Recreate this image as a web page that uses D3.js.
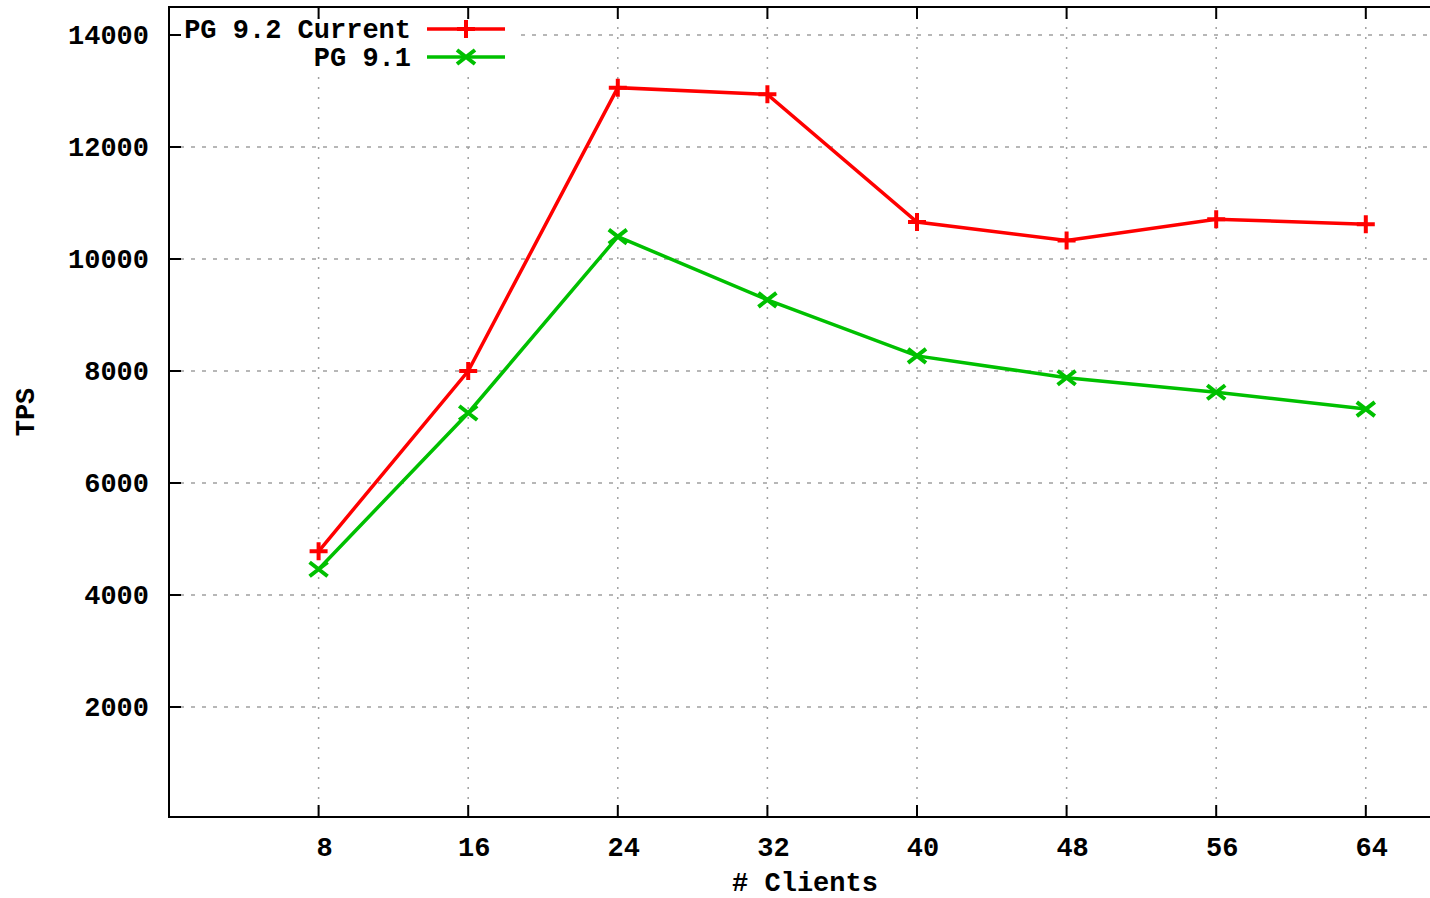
<!DOCTYPE html>
<html>
<head>
<meta charset="utf-8">
<script src="https://cdn.jsdelivr.net/npm/d3@7"></script>
<style>
  body { margin: 0; background: #fff; }
  text { font-family: "Liberation Mono", "DejaVu Sans Mono", monospace; font-weight: bold; fill: #000; }
</style>
</head>
<body>
<svg id="chart" width="1430" height="898"></svg>
<script>
// data
var clients = [8, 16, 24, 32, 40, 48, 56, 64];
var pg92 = [4780, 8000, 13060, 12940, 10660, 10330, 10710, 10620];
var pg91 = [4460, 7250, 10400, 9270, 8270, 7880, 7620, 7320];
var yTicks = [2000, 4000, 6000, 8000, 10000, 12000, 14000];
var seriesNames = ["PG 9.2 Current", "PG 9.1"];
var seriesColors = ["#ff0000", "#00c000"];

var svg = d3.select("#chart");
var plotLeft = 169, plotTop = 7, plotBottom = 817;
var fs = 27;

var x = d3.scaleLinear().domain([0, 72]).range([plotLeft, plotLeft + 72 * 149.6 / 8]);
var y = d3.scaleLinear().domain([0, 14500]).range([plotBottom + 2, plotTop]);

//grid
var grid = svg.append("g").attr("stroke", "#a0a0a0").attr("stroke-width", 1.5);
grid.selectAll("line.v").data(clients).enter().append("line")
    .attr("x1", function(d){return x(d);}).attr("x2", function(d){return x(d);})
    .attr("y1", plotTop).attr("y2", plotBottom)
    .attr("stroke-dasharray", "2,8");
grid.selectAll("line.h").data(yTicks).enter().append("line")
    .attr("x1", plotLeft).attr("x2", 1430)
    .attr("y1", function(d){return y(d);}).attr("y2", function(d){return y(d);})
    .attr("stroke-dasharray", "4,7");

//legend box hides the grid behind it
svg.append("rect").attr("x", plotLeft + 2).attr("y", plotTop + 13).attr("width", 348).attr("height", 56)
    .attr("fill", "#fff");

//frame
svg.append("rect").attr("x", plotLeft).attr("y", plotTop).attr("width", 1400).attr("height", plotBottom - plotTop)
    .attr("fill", "none").attr("stroke", "#000").attr("stroke-width", 2);

//ticks
var ticks = svg.append("g").attr("stroke", "#000").attr("stroke-width", 2);
clients.forEach(function(c){
    ticks.append("line").attr("x1", x(c)).attr("x2", x(c)).attr("y1", plotBottom).attr("y2", plotBottom - 12);
    ticks.append("line").attr("x1", x(c)).attr("x2", x(c)).attr("y1", plotTop).attr("y2", plotTop + 12);
});
yTicks.forEach(function(v){
    ticks.append("line").attr("x1", plotLeft).attr("x2", plotLeft + 12).attr("y1", y(v)).attr("y2", y(v));
});

//tick labels
svg.selectAll("text.xt").data(clients).enter().append("text")
    .attr("x", function(d){return x(d) + 6;}).attr("y", 856)
    .attr("text-anchor", "middle").attr("font-size", fs)
    .text(function(d){return d;});
svg.selectAll("text.yt").data(yTicks).enter().append("text")
    .attr("x", 149).attr("y", function(d){return y(d) + 9;})
    .attr("text-anchor", "end").attr("font-size", fs)
    .text(function(d){return d;});

svg.append("text").attr("x", 805).attr("y", 891).attr("text-anchor", "middle")
    .attr("font-size", fs).text("# Clients");
svg.append("text").attr("transform", "translate(34,412) rotate(-90)")
    .attr("text-anchor", "middle").attr("font-size", fs).text("TPS");

//series
var line = d3.line().x(function(d){return x(d[0]);}).y(function(d){return y(d[1]);});
var series = [pg92, pg91];

function plus(g, cx, cy, col) {
    g.append("path").attr("d", "M" + (cx - 9) + "," + cy + "H" + (cx + 9) + "M" + cx + "," + (cy - 9) + "V" + (cy + 9))
        .attr("stroke", col).attr("stroke-width", 4).attr("fill", "none");
}
function cross(g, cx, cy, col) {
    g.append("path").attr("d", "M" + (cx - 9) + "," + (cy - 7) + "L" + (cx + 9) + "," + (cy + 7) + "M" + (cx - 9) + "," + (cy + 7) + "L" + (cx + 9) + "," + (cy - 7))
        .attr("stroke", col).attr("stroke-width", 4).attr("fill", "none");
}
var markers = [plus, cross];

series.forEach(function(vals, i){
    var pts = clients.map(function(c, j){return [c, vals[j]];});
    var g = svg.append("g");
    g.append("path").datum(pts).attr("d", line)
        .attr("fill", "none").attr("stroke", seriesColors[i]).attr("stroke-width", 3.5);
    pts.forEach(function(p){ markers[i](g, x(p[0]), y(p[1]), seriesColors[i]); });
});

//legend
seriesNames.forEach(function(name, i){
    var ly = 29 + i * 28;
    svg.append("text").attr("x", 411).attr("y", ly + 9).attr("text-anchor", "end")
        .attr("font-size", fs).text(name);
    var g = svg.append("g");
    g.append("line").attr("x1", 427).attr("x2", 505).attr("y1", ly).attr("y2", ly)
        .attr("stroke", seriesColors[i]).attr("stroke-width", 3.5);
    markers[i](g, 466, ly, seriesColors[i]);
});
</script>
</body>
</html>
